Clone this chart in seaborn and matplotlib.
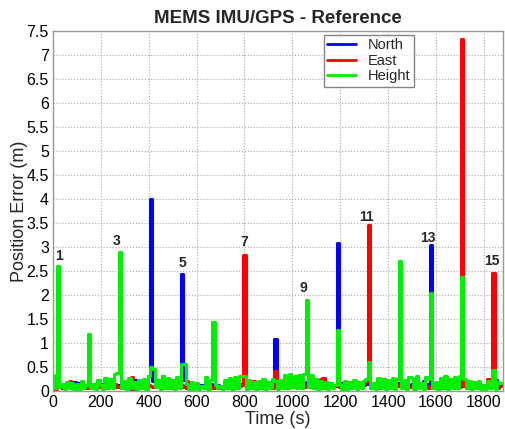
import numpy as np
import pandas as pd
import matplotlib
matplotlib.use("Agg")
import matplotlib.pyplot as plt
import seaborn as sns

# time grid (s)
time_s = list(range(0, 1880, 10))

north_base = [
    0.10,0.08,0.12,0.15,0.10,0.06,0.12,0.14,0.10,0.18,
    0.12,0.16,0.10,0.08,0.12,0.10,0.06,0.14,0.10,0.12,
    0.08,0.14,0.10,0.12,0.16,0.10,0.14,0.12,0.10,0.08,
    0.12,0.18,0.10,0.04,0.22,0.05,0.20,0.12,0.18,0.10,
    0.30,0.24,0.20,0.16,0.22,0.14,0.30,0.05,0.12,0.10,
    0.08,0.12,0.10,0.14,0.36,0.22,0.05,0.16,0.12,0.10,
    0.14,0.10,0.12,0.08,0.10,0.12,0.14,0.10,0.08,0.12,
    0.10,0.08,0.12,0.10,0.14,0.12,0.10,0.08,0.12,0.14,
    0.16,0.10,0.12,0.08,0.10,0.12,0.10,0.14,0.12,0.10,
    0.12,0.10,0.14,0.12,0.18,0.14,0.10,0.20,0.12,0.16,
    0.14,0.12,0.10,0.16,0.14,0.12,0.18,0.14,0.10,0.12,
    0.10,0.14,0.12,0.08,0.10,0.12,0.16,0.12,0.10,0.14,
    0.12,0.16,0.10,0.14,0.12,0.10,0.14,0.12,0.16,0.10,
    0.12,0.14,0.16,0.12,0.10,0.14,0.12,0.16,0.24,0.14,
    0.12,0.10,0.14,0.12,0.16,0.10,0.12,0.14,0.10,0.12,
    0.14,0.12,0.10,0.16,0.12,0.20,0.14,0.12,0.18,0.10,
    0.12,0.10,0.14,0.12,0.10,0.16,0.12,0.10,0.14,0.12,
    0.16,0.22,0.12,0.10,0.14,0.12,0.10,0.14,0.12,0.10,
    0.12,0.10,0.14,0.12,0.16,0.22,0.12,0.10,
]
east_base = [
    0.06,0.04,0.08,0.12,0.06,0.10,0.08,0.20,0.14,0.10,
    0.08,0.06,0.10,0.08,0.06,0.10,0.08,0.12,0.06,0.10,
    0.08,0.10,0.06,0.12,0.08,0.10,0.14,0.08,0.10,0.06,
    0.08,0.10,0.14,0.28,0.04,0.12,0.10,0.14,0.08,0.10,
    0.12,0.10,0.08,0.16,0.20,0.12,0.08,0.10,0.06,0.08,
    0.06,0.08,0.10,0.06,0.12,0.08,0.20,0.10,0.08,0.06,
    0.08,0.06,0.10,0.08,0.06,0.10,0.08,0.06,0.10,0.08,
    0.06,0.08,0.10,0.06,0.08,0.10,0.12,0.08,0.10,0.12,
    0.14,0.12,0.16,0.10,0.20,0.12,0.08,0.10,0.06,0.08,
    0.10,0.08,0.06,0.10,0.10,0.12,0.08,0.10,0.06,0.08,
    0.10,0.08,0.12,0.10,0.06,0.08,0.10,0.12,0.08,0.10,
    0.12,0.20,0.24,0.26,0.18,0.14,0.10,0.08,0.12,0.10,
    0.08,0.10,0.12,0.18,0.14,0.10,0.16,0.18,0.12,0.10,
    0.14,0.20,0.10,0.12,0.08,0.10,0.06,0.08,0.10,0.12,
    0.08,0.10,0.12,0.08,0.10,0.14,0.08,0.10,0.12,0.08,
    0.10,0.08,0.06,0.10,0.14,0.12,0.08,0.06,0.10,0.08,
    0.10,0.08,0.12,0.10,0.06,0.08,0.10,0.12,0.08,0.10,
    0.08,0.12,0.10,0.08,0.06,0.10,0.12,0.08,0.10,0.08,
    0.10,0.08,0.24,0.12,0.08,0.10,0.06,0.12,
]
height_base = [
    0.34,0.05,0.36,0.08,0.14,0.03,0.18,0.06,0.17,0.04,
    0.15,0.04,0.20,0.06,0.12,0.30,0.05,0.14,0.04,0.22,
    0.12,0.03,0.26,0.06,0.24,0.05,0.36,0.38,0.30,0.05,
    0.20,0.04,0.26,0.05,0.18,0.03,0.22,0.06,0.24,0.04,
    0.30,0.50,0.45,0.08,0.22,0.04,0.30,0.06,0.26,0.05,
    0.22,0.04,0.28,0.05,0.30,0.55,0.14,0.03,0.18,0.04,
    0.16,0.03,0.10,0.05,0.28,0.04,0.22,0.30,0.12,0.05,
    0.10,0.04,0.22,0.05,0.26,0.03,0.28,0.06,0.30,0.30,
    0.30,0.04,0.22,0.05,0.18,0.03,0.20,0.06,0.24,0.04,
    0.18,0.05,0.24,0.20,0.04,0.22,0.06,0.32,0.05,0.35,
    0.08,0.30,0.05,0.32,0.06,0.36,0.30,0.08,0.34,0.05,
    0.24,0.04,0.20,0.05,0.18,0.03,0.16,0.06,0.12,0.18,
    0.14,0.04,0.20,0.03,0.18,0.05,0.22,0.04,0.18,0.06,
    0.20,0.24,0.28,0.05,0.16,0.04,0.26,0.06,0.24,0.03,
    0.22,0.05,0.26,0.04,0.24,0.30,0.06,0.22,0.04,0.28,
    0.26,0.04,0.30,0.05,0.16,0.03,0.28,0.24,0.30,0.06,
    0.18,0.04,0.26,0.05,0.30,0.03,0.24,0.06,0.28,0.05,
    0.30,0.30,0.24,0.05,0.20,0.03,0.18,0.06,0.20,0.04,
    0.12,0.03,0.20,0.05,0.22,0.04,0.18,0.16,
]

# spikes: (time, value)
north_spike_t = [410, 540, 930, 1190, 1580]
north_spike_v = [4.00, 2.44, 1.08, 3.08, 3.04]
east_spike_t = [800, 930, 1320, 1710, 1840]
east_spike_v = [2.83, 0.42, 3.46, 7.33, 2.46]
height_spike_t = [20, 150, 280, 410, 540, 670, 800, 1060, 1190, 1320, 1450, 1580, 1710, 1840]
height_spike_v = [2.60, 1.19, 2.90, 0.50, 0.55, 1.44, 0.30, 1.90, 1.27, 0.60, 2.70, 2.04, 2.37, 0.44]

# event number labels
label_text = ["1", "3", "5", "7", "9", "11", "13", "15"]
label_t = [25, 267, 539, 797, 1048, 1311, 1566, 1833]
label_y = [2.81, 3.12, 2.67, 3.10, 2.15, 3.63, 3.19, 2.71]

series_names = ["North", "East", "Height"]
series_colors = ["#0000ff", "#ff0000", "#00ee00"]


def build(base, st, sv):
    vals = list(base)
    for t, v in zip(st, sv):
        vals[time_s.index(t)] = v
    return vals


north = build(north_base, north_spike_t, north_spike_v)
east = build(east_base, east_spike_t, east_spike_v)
height = build(height_base, height_spike_t, height_spike_v)

df = pd.concat([
    pd.DataFrame({"Time": time_s, "Error": north, "Series": "North"}),
    pd.DataFrame({"Time": time_s, "Error": east, "Series": "East"}),
    pd.DataFrame({"Time": time_s, "Error": height, "Series": "Height"}),
], ignore_index=True)

sns.set_theme(style="white")
plt.rcParams["font.family"] = ["Liberation Sans", "DejaVu Sans"]

fig = plt.figure(figsize=(5.05, 4.29), dpi=100)
ax = fig.add_axes([0.105, 0.089, 0.891, 0.839])

sns.lineplot(data=df, x="Time", y="Error", hue="Series", hue_order=series_names,
             palette=dict(zip(series_names, series_colors)), linewidth=2.2,
             ax=ax, estimator=None, sort=False, drawstyle="steps-mid")

ax.set_xlim(0, 1880)
ax.set_ylim(0, 7.5)
ax.set_xticks(np.arange(0, 1801, 200))
ax.set_yticks(np.arange(0, 7.51, 0.5))
ax.set_yticklabels(["0" if v == 0 else ("%g" % v) for v in np.arange(0, 7.51, 0.5)])
ax.grid(True, linestyle=":", color="#aaaaaa", linewidth=0.8)
ax.tick_params(direction="in", labelsize=11.5, length=3, pad=3, colors="#000000")
for sp in ax.spines.values():
    sp.set_color("#999999")
    sp.set_linewidth(1.0)

ax.set_xlabel("Time (s)", fontsize=13, labelpad=1)
ax.set_ylabel("Position Error (m)", fontsize=13, labelpad=-1)
ax.set_title("MEMS IMU/GPS - Reference", fontsize=13.5, fontweight="bold", pad=6)

for txt, tx, ty in zip(label_text, label_t, label_y):
    ax.text(tx, ty, txt, ha="center", va="center", fontsize=10, fontweight="bold")

leg = ax.legend(loc="upper left", bbox_to_anchor=(0.585, 1.01), fontsize=10.5,
                frameon=True, fancybox=False, edgecolor="#666666",
                handlelength=2.0, borderpad=0.25, labelspacing=0.1, title=None)
leg.get_frame().set_linewidth(1.0)
for h in leg.get_lines():
    h.set_linewidth(2.0)

fig.savefig("out.png", dpi=100)
